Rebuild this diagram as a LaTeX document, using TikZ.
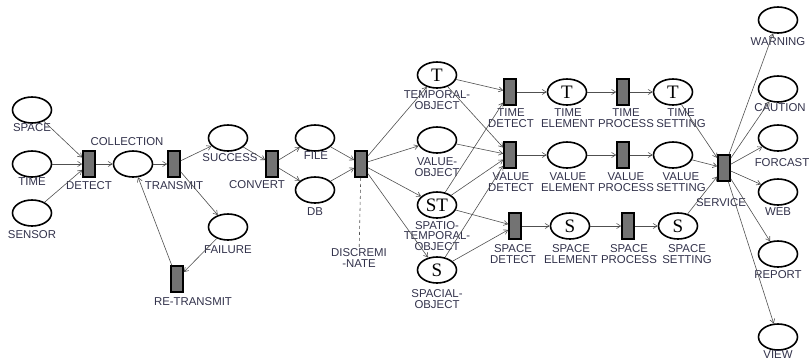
\documentclass[tikz,border=0pt]{standalone}
\usepackage{fontspec}
\setmainfont{Liberation Sans}
\newfontfamily\serifletters{Liberation Serif}
\usetikzlibrary{arrows.meta,shapes.geometric}
\definecolor{lbl}{RGB}{50,50,75}
\definecolor{tfill}{RGB}{115,115,115}
\definecolor{edgec}{RGB}{80,80,80}
\begin{document}
\begin{tikzpicture}[x=1pt,y=-1pt,
 place/.style={draw=black,line width=1.6pt,ellipse,minimum width=39pt,minimum height=26pt,inner sep=0pt,fill=white},
 trans/.style={draw=black,line width=1.6pt,rectangle,minimum width=12pt,minimum height=26pt,inner sep=0pt,fill=tfill},
 lab/.style={text=lbl,font=\fontsize{11.4}{10.5}\selectfont,align=center,inner sep=0pt},
 big/.style={font=\serifletters\fontsize{19}{19}\selectfont},
 arc/.style={draw=edgec,line width=0.6pt,-{Straight Barb[length=4pt,width=5pt]}},
]
\useasboundingbox (0,0) rectangle (809,362);

% places
\node[place] (space) at (32,110) {};
\node[place] (time) at (32,164) {};
\node[place] (sensor) at (32,213) {};
\node[place] (coll) at (133,164) {};
\node[place] (success) at (228,138) {};
\node[place] (failure) at (228,227) {};
\node[place] (file) at (315,138) {};
\node[place] (db) at (315,190) {};
\node[place,big] (tobj) at (437,75) {T};
\node[place] (vobj) at (437,140) {};
\node[place,big] (stobj) at (437,205) {ST};
\node[place,big] (sobj) at (437,270) {S};
\node[place,big] (tel) at (567,92) {T};
\node[place] (vel) at (567,155) {};
\node[place,big] (sel) at (570,226) {S};
\node[place,big] (tset) at (673,92) {T};
\node[place] (vset) at (673,155) {};
\node[place,big] (sset) at (678,226) {S};
\node[place] (warn) at (778,20) {};
\node[place] (caut) at (778,89) {};
\node[place] (forc) at (778,138) {};
\node[place] (web) at (778,192) {};
\node[place] (report) at (778,254) {};
\node[place] (view) at (778,337) {};

% transitions
\node[trans] (detect) at (89,164) {};
\node[trans] (transmit) at (174,164) {};
\node[trans] (retrans) at (177,279) {};
\node[trans] (convert) at (272,164) {};
\node[trans] (disc) at (361,164) {};
\node[trans] (tdet) at (510,92) {};
\node[trans] (vdet) at (510,155) {};
\node[trans] (sdet) at (515,226) {};
\node[trans] (tproc) at (623,92) {};
\node[trans] (vproc) at (623,155) {};
\node[trans] (sproc) at (628,226) {};
\node[trans] (service) at (724,168) {};

% labels
\node[lab] (lspace) at (32,128) {SPACE};
\node[lab] (ltime) at (32,182) {TIME};
\node[lab] (lsensor) at (32,235) {SENSOR};
\node[lab] (ldetect) at (89,186) {DETECT};
\node[lab] (lcoll) at (127,142) {COLLECTION};
\node[lab] (ltransmit) at (174,186) {TRANSMIT};
\node[lab] (lsuccess) at (230,158) {SUCCESS};
\node[lab] (lfailure) at (228,250) {FAILURE};
\node[lab] (lretrans) at (193,302) {RE-TRANSMIT};
\node[lab] (lconvert) at (257,185) {CONVERT};
\node[lab] (lfile) at (316,156) {FILE};
\node[lab] (ldb) at (315,212) {DB};
\node[lab] (ldisc) at (359,258) {DISCREMI\\-NATE};
\node[lab] (ltobj) at (437,100) {TEMPORAL-\\OBJECT};
\node[lab] (lvobj) at (437,167) {VALUE-\\OBJECT};
\node[lab] (lstobj) at (437,236) {SPATIO-\\TEMPORAL-\\OBJECT};
\node[lab] (lsobj) at (437,299) {SPACIAL-\\OBJECT};
\node[lab] (ltdet) at (511,118) {TIME\\DETECT};
\node[lab] (lvdet) at (511,182) {VALUE\\DETECT};
\node[lab] (lsdet) at (513,254) {SPACE\\DETECT};
\node[lab] (ltel) at (568,118) {TIME\\ELEMENT};
\node[lab] (lvel) at (568,182) {VALUE\\ELEMENT};
\node[lab] (lsel) at (571,254) {SPACE\\ELEMENT};
\node[lab] (ltproc) at (626,118) {TIME\\PROCESS};
\node[lab] (lvproc) at (626,182) {VALUE\\PROCESS};
\node[lab] (lsproc) at (629,254) {SPACE\\PROCESS};
\node[lab] (ltset) at (681,118) {TIME\\SETTING};
\node[lab] (lvset) at (681,182) {VALUE\\SETTING};
\node[lab] (lsset) at (687,254) {SPACE\\SETTING};
\node[lab] (lservice) at (721,203) {SERVICE};
\node[lab] (lwarn) at (778,42) {WARNING};
\node[lab] (lcaut) at (780,108) {CAUTION};
\node[lab] (lforc) at (782,163) {FORCAST};
\node[lab] (lweb) at (778,212) {WEB};
\node[lab] (lreport) at (778,275) {REPORT};
\node[lab] (lview) at (778,355) {VIEW};

% arcs
\draw[arc] (space) -- (detect);
\draw[arc] (time) -- (detect);
\draw[arc] (sensor) -- (detect);
\draw[arc] (detect) -- (coll);
\draw[arc] (coll) -- (transmit);
\draw[arc] (transmit) -- (success);
\draw[arc] (transmit) -- (failure);
\draw[arc] (failure) -- (retrans);
\draw[arc] (retrans) -- (coll);
\draw[arc] (success) -- (convert);
\draw[arc] (convert) -- (file);
\draw[arc] (convert) -- (db);
\draw[arc] (file) -- (disc);
\draw[arc] (db) -- (disc);
\draw[arc] (disc) -- (tobj);
\draw[arc] (disc) -- (vobj);
\draw[arc] (disc) -- (stobj);
\draw[arc] (disc) -- (sobj);
\draw[draw=edgec,line width=0.6pt,dashed] (disc) -- (ldisc);
\draw[arc] (tobj) -- (tdet);
\draw[arc] (tobj) -- (vdet);
\draw[arc] (vobj) -- (vdet);
\draw[arc] (stobj) -- (tdet);
\draw[arc] (stobj) -- (vdet);
\draw[arc] (stobj) -- (sdet);
\draw[arc] (sobj) -- (vdet);
\draw[arc] (sobj) -- (sdet);
\draw[arc] (tdet) -- (tel);
\draw[arc] (vdet) -- (vel);
\draw[arc] (sdet) -- (sel);
\draw[arc] (tel) -- (tproc);
\draw[arc] (vel) -- (vproc);
\draw[arc] (sel) -- (sproc);
\draw[arc] (tproc) -- (tset);
\draw[arc] (vproc) -- (vset);
\draw[arc] (sproc) -- (sset);
\draw[arc] (tset) -- (service);
\draw[arc] (vset) -- (service);
\draw[arc] (sset) -- (service);
\draw[arc] (service) -- (warn);
\draw[arc] (service) -- (caut);
\draw[arc] (service) -- (forc);
\draw[arc] (service) -- (web);
\draw[arc] (service) -- (report);
\draw[arc] (service) -- (view);
\end{tikzpicture}
\end{document}
